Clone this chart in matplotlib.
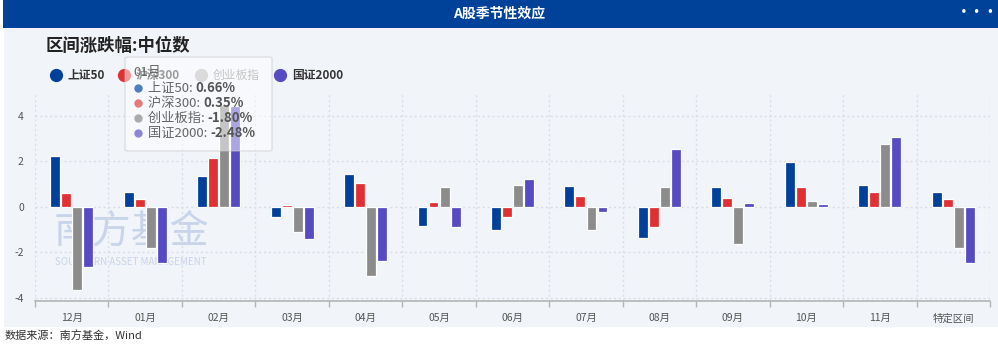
import numpy as np
import matplotlib
matplotlib.use("Agg")
import matplotlib.pyplot as plt
from matplotlib.patches import Rectangle, FancyBboxPatch
from matplotlib.lines import Line2D

plt.rcParams['font.family'] = ['Noto Sans CJK SC', 'DejaVu Sans']

# ============== DATA ==============
categories = ["12月", "01月", "02月", "03月", "04月", "05月", "06月",
              "07月", "08月", "09月", "10月", "11月", "特定区间"]
series_names = ["上证50", "沪深300", "创业板指", "国证2000"]
sz50   = [2.25, 0.66, 1.35, -0.45, 1.45, -0.85, -1.03, 0.93, -1.38, 0.88, 1.98, 0.97, 0.66]
hs300  = [0.61, 0.35, 2.16, 0.07, 1.04, 0.22, -0.45, 0.48, -0.89, 0.40, 0.88, 0.66, 0.35]
cyb    = [-3.67, -1.80, 4.50, -1.11, -3.05, 0.88, 0.97, -1.03, 0.88, -1.64, 0.26, 2.75, -1.80]
gz2000 = [-2.65, -2.48, 4.45, -1.42, -2.39, -0.89, 1.23, -0.23, 2.55, 0.18, 0.13, 3.08, -2.48]
yticks = [-4, -2, 0, 2, 4]
tooltip_title = "01月"
tooltip_vals = ["0.66%", "0.35%", "-1.80%", "-2.48%"]
# ==================================

COLORS = ["#00409a", "#e03034", "#8c8c8c", "#574bc4"]
TIP_DOTS = ["#4f7dbf", "#e8787a", "#ababab", "#8d86d6"]
BG = "#f1f4f9"
W, H = 998, 344


def fx(x):
    return x / W


def fy(y):
    return 1 - y / H


fig = plt.figure(figsize=(W / 100, H / 100), dpi=100)
fig.patch.set_facecolor("white")

# pannello e barra titolo
fig.add_artist(Rectangle((fx(4), fy(327)), fx(994), (327 - 27) / H,
                         transform=fig.transFigure, facecolor=BG, edgecolor="none", zorder=0))
fig.add_artist(Rectangle((fx(3), fy(28)), fx(995), 28 / H,
                         transform=fig.transFigure, facecolor="#00419a", edgecolor="none", zorder=1))
fig.text(fx(499), fy(14), "A股季节性效应", color="white", fontsize=10, fontweight="bold",
         ha="center", va="center")
fig.text(fx(978), fy(13), "···", color="white", fontsize=10, fontweight="bold",
         ha="center", va="center")

fig.text(fx(46), fy(46), "区间涨跌幅:中位数", color="#222222", fontsize=12.5,
         fontweight="bold", ha="left", va="center")

# legenda
leg_x = [56, 124, 201, 280]
for i, name in enumerate(series_names):
    mc = COLORS[i] if i != 2 else "#b8b8b8"
    tc = "#333333" if i != 2 else "#888888"
    fig.add_artist(Line2D([fx(leg_x[i])], [fy(75)], marker="o", markersize=8.5,
                          color=mc, transform=fig.transFigure, zorder=3))
    fig.text(fx(leg_x[i] + 12), fy(75), name, color=tc, fontsize=8.5,
             fontweight="bold" if i != 2 else "normal", ha="left", va="center")

# assi
ax = fig.add_axes([fx(35), fy(300.7), fx(990 - 35), (300.7 - 93.3) / H])
ax.set_facecolor(BG)
ax.set_zorder(2)

# watermark
ax.text(0.1005, 0.335, "南方基金", transform=ax.transAxes, fontsize=28, color="#c8d4ea",
        ha="center", va="center", fontweight="medium", zorder=0)
ax.text(0.1005, 0.188, "SOUTHERN ASSET MANAGEMENT", transform=ax.transAxes, fontsize=7,
        color="#c8d4ea", ha="center", va="center", zorder=0)

x = np.arange(len(categories))
slot = 0.15
bw = 0.135
for i, vals in enumerate([sz50, hs300, cyb, gz2000]):
    ax.bar(x + (i - 1.5) * slot, vals, width=bw, color=COLORS[i],
           edgecolor="white", linewidth=0.9, zorder=3)

ax.set_xlim(-0.5, len(categories) - 0.5)
ax.set_ylim(-4.14, 5.0)
ax.set_yticks(yticks)
ax.set_yticklabels([str(v) for v in yticks])
ax.set_xticks(x)
ax.set_xticklabels(categories)
ax.set_xticks(np.arange(-0.5, len(categories)), minor=True)

for yv in yticks:
    ax.axhline(yv, color="#d9dde6", linestyle=(0, (1.5, 2)), linewidth=1, zorder=1)
for xv in np.arange(-0.5, len(categories)):
    ax.axvline(xv, color="#d9dde6", linestyle=(0, (1.5, 2)), linewidth=1, zorder=1)

for s in ["top", "right", "left"]:
    ax.spines[s].set_visible(False)
ax.spines["bottom"].set_color("#b4b4b4")
ax.spines["bottom"].set_linewidth(1.2)
ax.tick_params(axis="x", which="major", length=0, pad=9, labelsize=7.5, labelcolor="#555555")
ax.tick_params(axis="x", which="minor", length=4, color="#b4b4b4", width=1)
ax.tick_params(axis="y", length=0, pad=8, labelsize=7.5, labelcolor="#555555")

# tooltip
tip = FancyBboxPatch((fx(125), fy(151)), fx(272 - 125), (151 - 57) / H,
                     boxstyle="round,pad=0,rounding_size=0.004",
                     transform=fig.transFigure, facecolor="white", alpha=0.5,
                     edgecolor="#c8c8c8", linewidth=1, zorder=10)
fig.add_artist(tip)
fig.text(fx(133), fy(72), tooltip_title, color="#666666", fontsize=9.5,
         ha="left", va="center", zorder=11)
line_y = [88, 103, 118, 133]
for i, name in enumerate(series_names):
    fig.add_artist(Line2D([fx(138)], [fy(line_y[i])], marker="o", markersize=5,
                          color=TIP_DOTS[i], transform=fig.transFigure, zorder=11))
    t = fig.text(fx(148), fy(line_y[i]), name + ": ", color="#666666", fontsize=9.5,
                 ha="left", va="center", zorder=11)
    fig.canvas.draw()
    bb = t.get_window_extent()
    fig.text(bb.x1 / W, fy(line_y[i]), tooltip_vals[i], color="#555555", fontsize=9.5,
             fontweight="bold", ha="left", va="center", zorder=11)

fig.text(fx(5), fy(336), "数据来源：南方基金，Wind", color="#333333", fontsize=8,
         style="italic", ha="left", va="center")

fig.savefig("out.png", dpi=100, facecolor=fig.get_facecolor())
